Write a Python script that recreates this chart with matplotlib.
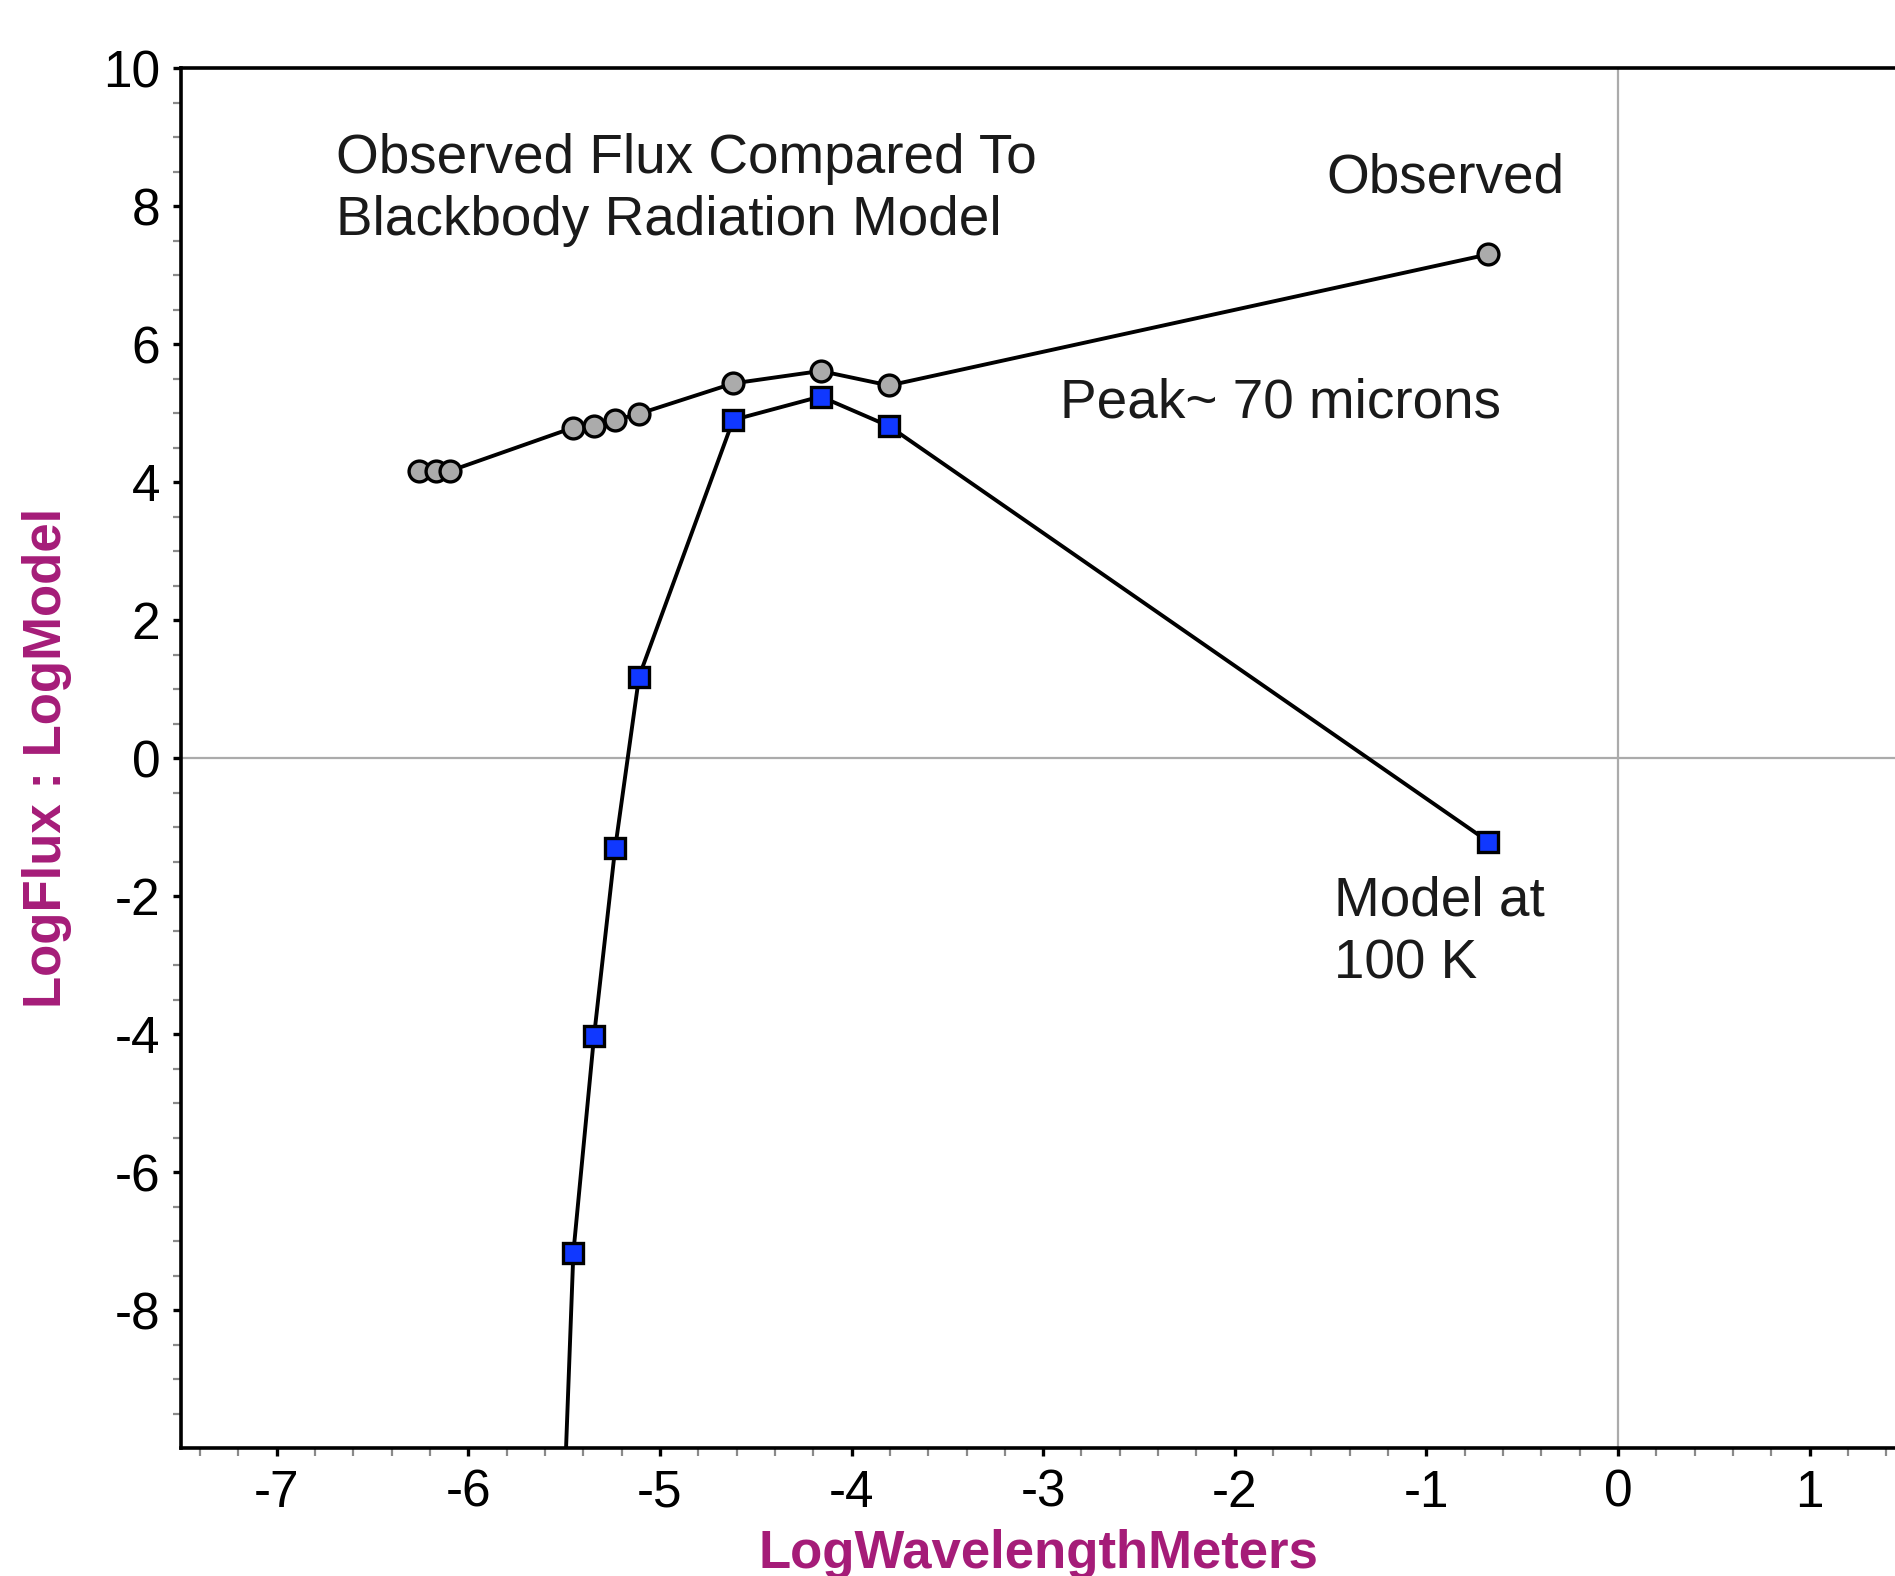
import numpy as np
import matplotlib
matplotlib.use("Agg")
import matplotlib.pyplot as plt

plt.rcParams['font.family'] = ['Liberation Sans', 'DejaVu Sans']

# observed flux (log10) against log10 wavelength in meters
obs_x = [-6.256, -6.167, -6.097, -5.452, -5.344, -5.234, -5.109, -4.618, -4.162, -3.804, -0.677]
obs_y = [4.16, 4.16, 4.16, 4.79, 4.81, 4.90, 4.99, 5.43, 5.61, 5.40, 7.30]

# blackbody model at 100 K (first point falls far below the plot)
model_x = [-6.097, -5.452, -5.344, -5.234, -5.109, -4.618, -4.162, -3.804, -0.677]
model_y = [-55.0, -7.17, -4.03, -1.31, 1.18, 4.90, 5.24, 4.81, -1.21]

purple = '#A51C78'
txt = '#1a1a1a'

fig = plt.figure(figsize=(18.95, 15.76), dpi=100)
ax = fig.add_axes([0.0955, 0.0812, 0.9045, 0.8756])

ax.axhline(0, color='#ABABAB', lw=1.6, zorder=1)
ax.axvline(0, color='#ABABAB', lw=1.6, zorder=1)

ax.plot(obs_x, obs_y, color='black', lw=2.8, marker='o', ms=15,
        mfc='#ABABAB', mec='black', mew=2.4, zorder=3)
ax.plot(model_x, model_y, color='black', lw=2.8, marker='s', ms=15,
        mfc='#1038FF', mec='black', mew=2.4, zorder=3)

ax.set_xlim(-7.5, 1.446)
ax.set_ylim(-10, 10)
ax.set_xticks(np.arange(-7, 2, 1))
ax.set_xticks(np.arange(-7.4, 1.45, 0.2), minor=True)
ax.set_yticks(np.arange(-8, 11, 2))
ax.set_yticks(np.arange(-9.5, 10, 0.5), minor=True)
ax.set_xticklabels(['-7', '-6', '-5', '-4', '-3', '-2', '-1', '0', '1'])
ax.set_yticklabels(['-8', '-6', '-4', '-2', '0', '2', '4', '6', '8', '10'])

ax.tick_params(which='major', length=6, width=2.4, color='black',
               labelsize=37, pad=9)
ax.tick_params(which='minor', length=6, width=1.6, color='#8A8A8A')

for s in ['left', 'bottom', 'top']:
    ax.spines[s].set_linewidth(2.6)
ax.spines['right'].set_visible(False)

ax.set_xlabel('LogWavelengthMeters', fontsize=38, fontweight='bold',
              color=purple, labelpad=8)
ax.set_ylabel('LogFlux : LogModel', fontsize=38, fontweight='bold',
              color=purple, labelpad=22)

fs = 39.5
ax.text(-6.69, 8.48, 'Observed Flux Compared To', fontsize=fs, color=txt,
        va='baseline', ha='left')
ax.text(-6.69, 7.58, 'Blackbody Radiation Model', fontsize=fs, color=txt,
        va='baseline', ha='left')
ax.text(-1.52, 8.19, 'Observed', fontsize=fs, color=txt,
        va='baseline', ha='left')
ax.text(-2.91, 4.94, 'Peak~ 70 microns', fontsize=fs, color=txt,
        va='baseline', ha='left')
ax.text(-1.48, -2.28, 'Model at', fontsize=fs, color=txt,
        va='baseline', ha='left')
ax.text(-1.48, -3.19, '100 K', fontsize=fs, color=txt,
        va='baseline', ha='left')

fig.savefig('out.png', dpi=100)
